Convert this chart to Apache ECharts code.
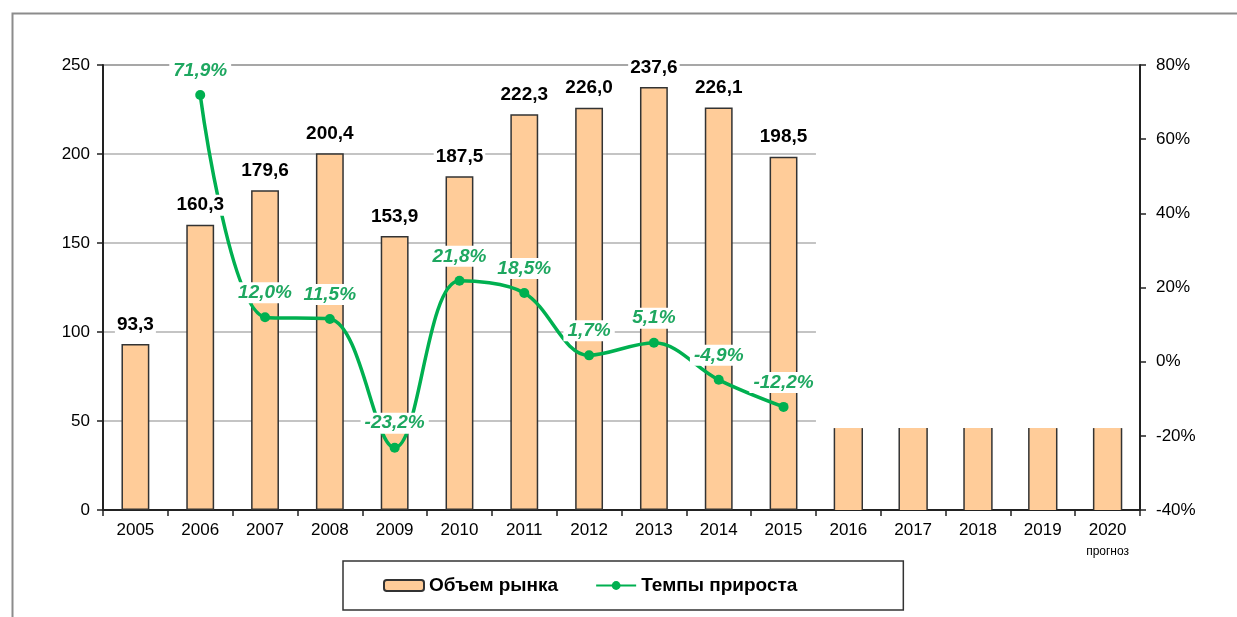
<!DOCTYPE html>
<html>
<head>
<meta charset="utf-8">
<script src="https://cdn.jsdelivr.net/npm/echarts@6/dist/echarts.min.js"></script>
<style>html,body{margin:0;padding:0;background:#fff;}#c{width:1237px;height:617px;}</style>
</head>
<body>
<div id="c"></div>
<script>
const years = ['2005','2006','2007','2008','2009','2010','2011','2012','2013','2014','2015','2016','2017','2018','2019','2020'];
const marketVolume = [93.3,160.3,179.6,200.4,153.9,187.5,222.3,226.0,237.6,226.1,198.5];
const forecastYears = ['2016','2017','2018','2019','2020'];
const forecastVisible = [46,46,46,46,46];
const growthYears = ['2006','2007','2008','2009','2010','2011','2012','2013','2014','2015'];
const growthRate = [71.9,12.0,11.5,-23.2,21.8,18.5,1.7,5.1,-4.9,-12.2];
const leftTicks = [0,50,100,150,200,250];
const rightTicks = [-40,-20,0,20,40,60,80];
const gridValues = [50,100,150,200];

const FONT = '"Liberation Sans", Arial, sans-serif';
const fmt = v => v.toFixed(1).replace('.', ',');

const barData = years.map((y,i) => i < marketVolume.length ? marketVolume[i] : '-');
const lineData = years.map(y => { const k = growthYears.indexOf(y); return k >= 0 ? growthRate[k] : '-'; });

const chart = echarts.init(document.getElementById('c'), null, {renderer:'canvas'});
chart.setOption({
  animation: false,
  backgroundColor: '#fff',
  textStyle: {fontFamily: FONT},
  graphic: [{
    type: 'rect', left: 10, top: 11, shape: {width: 1400, height: 800},
    style: {fill: 'none', stroke: '#8c8c8c', lineWidth: 2}, silent: true, z: -10
  }],
  grid: {left: 103, right: 97, top: 65, bottom: 107, containLabel: false},
  legend: {
    left: 343, top: 561,
    padding: [15, 106, 15, 40],
    borderColor: '#333', borderWidth: 1.5,
    itemWidth: 40, itemHeight: 11, itemGap: 37,
    data: ['Объем рынка', 'Темпы прироста'],
    textStyle: {fontFamily: FONT, fontSize: 19, fontWeight: 'bold', color: '#000'}
  },
  xAxis: [{
    type: 'category', data: years, boundaryGap: true,
    axisLine: {lineStyle: {color: '#222', width: 2}},
    axisTick: {show: true, alignWithLabel: false, length: 6, lineStyle: {color: '#222', width: 1.5}},
    axisLabel: {
      color: '#000', fontSize: 17, margin: 12, interval: 0,
      formatter: v => v === '2020' ? v + '\n{s|прогноз}' : v,
      rich: {s: {fontSize: 12, color: '#000', lineHeight: 22, padding: [4,0,0,0]}}
    }
  }, {
    type: 'value', min: 0, max: 16, show: false
  }],
  yAxis: [{
    type: 'value', min: 0, max: 250, interval: 50, position: 'left',
    axisLine: {show: true, lineStyle: {color: '#222', width: 2}},
    axisTick: {show: true, length: 6, lineStyle: {color: '#222', width: 1.5}},
    axisLabel: {color: '#000', fontSize: 17, margin: 13},
    splitLine: {show: false}
  }, {
    type: 'value', min: -40, max: 80, interval: 20, position: 'right',
    axisLine: {show: true, lineStyle: {color: '#222', width: 2}},
    axisTick: {show: true, length: 6, lineStyle: {color: '#222', width: 1.5}},
    axisLabel: {color: '#000', fontSize: 17, margin: 16, formatter: '{value}%'},
    splitLine: {show: false}
  }],
  series: [{
    name: 'grid', type: 'line', xAxisIndex: 1, yAxisIndex: 0,
    data: [[0,0]], symbol: 'none', lineStyle: {opacity: 0}, silent: true, z: 0,
    markLine: {
      silent: true, symbol: 'none', z: 0, label: {show: false},
      lineStyle: {color: '#c4c4c4', width: 2, type: 'solid'},
      data: gridValues.map(v => [{coord: [0, v]}, {coord: [11, v]}]).concat([
        [{coord: [0, 250], lineStyle: {color: '#8a8a8a', width: 1.5}}, {coord: [16, 250]}]
      ])
    }
  }, {
    name: 'Объем рынка', type: 'bar', xAxisIndex: 0, yAxisIndex: 0,
    data: barData, barWidth: '43%', z: 2,
    itemStyle: {color: '#ffcc99', borderColor: '#333', borderWidth: 1.5}
  }, {
    name: 'forecast', type: 'custom', xAxisIndex: 0, yAxisIndex: 0, z: 2,
    data: forecastYears.map((y,i) => [y, forecastVisible[i]]),
    encode: {x: 0, y: 1},
    renderItem: (params, api) => {
      const base = api.coord([api.value(0), 0]);
      const top = api.coord([api.value(0), api.value(1)]);
      const w = api.size([1, 0])[0] * 0.43;
      const x0 = base[0] - w / 2, x1 = base[0] + w / 2;
      return {type: 'group', children: [
        {type: 'rect', shape: {x: x0, y: top[1], width: w, height: base[1] - top[1]}, style: {fill: '#ffcc99'}},
        {type: 'line', shape: {x1: x0, y1: top[1], x2: x0, y2: base[1]}, style: {stroke: '#333', lineWidth: 1.5}},
        {type: 'line', shape: {x1: x1, y1: top[1], x2: x1, y2: base[1]}, style: {stroke: '#333', lineWidth: 1.5}}
      ]};
    }
  }, {
    name: 'Темпы прироста', type: 'line', xAxisIndex: 0, yAxisIndex: 1,
    data: lineData, smooth: 0.35, z: 5,
    symbol: 'circle', symbolSize: 10, showAllSymbol: true,
    itemStyle: {color: '#00b050'},
    lineStyle: {color: '#00b050', width: 3.5},
    label: {
      show: true, position: 'top', distance: 9,
      color: '#1ea760', fontSize: 19, fontWeight: 'bold', fontStyle: 'italic', fontFamily: FONT,
      backgroundColor: '#fff', padding: [1, 4],
      formatter: p => fmt(p.value) + '%'
    }
  }, {
    name: 'barLabels', type: 'bar', xAxisIndex: 0, yAxisIndex: 0,
    data: barData, barWidth: '43%', barGap: '-100%', z: 6, silent: true,
    itemStyle: {color: 'rgba(0,0,0,0)', borderWidth: 0},
    label: {
      show: true, position: 'top', distance: 9, color: '#000',
      fontSize: 19, fontWeight: 'bold', fontFamily: FONT,
      backgroundColor: '#fff', padding: [1, 2],
      formatter: p => fmt(p.value)
    }
  }]
});
</script>
</body>
</html>
